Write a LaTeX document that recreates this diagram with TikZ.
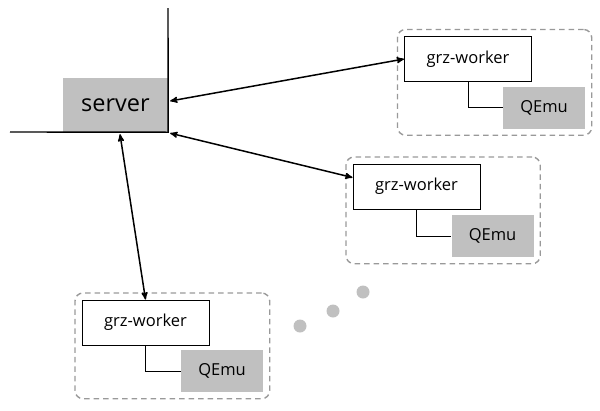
\documentclass[tikz,border=0pt]{standalone}
\usepackage{fontspec}
\setmainfont{Open Sans}
\usetikzlibrary{arrows,positioning,fit,calc}
\definecolor{G}{RGB}{192,192,192}
\definecolor{D}{RGB}{153,153,153}
\tikzstyle{srv} = [fill=G, minimum width=105pt, minimum height=54pt,
inner sep=0pt, font=\fontsize{23.5}{27}\selectfont]
\tikzstyle{worker} = [draw=black, line width=1pt, fill=white,
minimum width=127pt, minimum height=45pt, inner sep=0pt,
font=\fontsize{16.5}{20}\selectfont]
\tikzstyle{emu} = [fill=G, minimum width=82pt, minimum height=42pt,
inner sep=0pt, font=\fontsize{16.5}{20}\selectfont]
\tikzstyle{group} = [draw=D, dash pattern=on 5.5pt off 4pt, line width=1.4pt,
rounded corners=8pt, inner sep=6.5pt]
\tikzstyle{link} = [<->, line width=1.5pt]
\begin{document}
\begin{tikzpicture}[x=1pt, y=-1pt, >=stealth']
  \useasboundingbox (0,0) rectangle (600,410);

  \node[srv] (server) at (115.5,105) {server};
  \coordinate (top)  at (168,8);
  \coordinate (left) at (10,132);
  \draw[line width=1.4pt] (top) -- (server.south east) -- (left);

  \node[worker] (w1) at (468,59)    {grz-worker};
  \node[emu]    (q1) at (544,107.5) {QEmu};
  \node[worker] (w2) at (416.5,186.5) {grz-worker};
  \node[emu]    (q2) at (492.5,236)   {QEmu};
  \node[worker] (w3) at (145.5,322.5) {grz-worker};
  \node[emu]    (q3) at (222,371)     {QEmu};

  \node[group, fit=(w1)(q1)] (g1) {};
  \node[group, fit=(w2)(q2)] (g2) {};
  \node[group, fit=(w3)(q3)] (g3) {};

  \draw[line width=1pt] (w1.south) |- (q1.west);
  \draw[line width=1pt] (w2.south) |- (q2.west);
  \draw[line width=1pt] (w3.south) |- (q3.west);

  \draw[link] ([xshift=2pt,yshift=4pt]server.east) -- (w1.west);
  \draw[link] ([xshift=2pt,yshift=-1pt]server.south east) -- ([yshift=9pt]w2.west);
  \draw[link] ([xshift=4.5pt,yshift=-2pt]server.south) -- (w3.north);

  % dots
  \foreach \p in {(300,326),(333,311),(363,292)}
    \fill[G] \p circle (6.5pt);
\end{tikzpicture}
\end{document}
